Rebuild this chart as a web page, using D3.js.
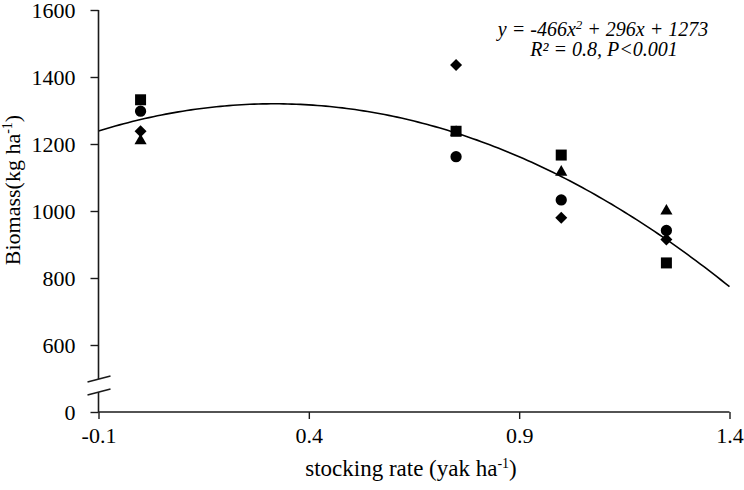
<!DOCTYPE html>
<html>
<head>
<meta charset="utf-8">
<script src="https://cdn.jsdelivr.net/npm/d3@7"></script>
<style>
  html, body { margin: 0; padding: 0; background: #fff; }
  svg { display: block; }
  svg text { font-family: "Times New Roman", "Liberation Serif", Tinos, serif; fill: #000; }
</style>
</head>
<body>
<svg id="chart" width="744" height="490"></svg>
<script>
// ---- data ----
const stockingRates = [0, 0.75, 1.0, 1.25];
const seriesSquare   = [1332, 1238, 1167, 845];
const seriesCircle   = [1298, 1162, 1033, 942];
const seriesDiamond  = [1238, 1436, 980, 915];
const seriesTriangle = [1213, 1238, 1119, 1003];
const xTicks = [-0.1, 0.4, 0.9, 1.4];
const yTicks = [0, 600, 800, 1000, 1200, 1400, 1600];
const fitCoef = [-466, 296, 1273]; // a, b, c of y = a x^2 + b x + c
const equationLine1 = ["y = -466x", "2", " + 296x + 1273"];
const equationLine2 = "R² = 0.8, P<0.001";
const xTitle = ["stocking rate (yak ha", "-1", ")"];
const yTitle = ["Biomass(kg ha", "-1", ")"];

const SERIF = '"Times New Roman", "Liberation Serif", Tinos, serif';

// ---- layout ----
const svg = d3.select("#chart");
const x = d3.scaleLinear().domain([-0.1, 1.4]).range([98.5, 729.5]);
const y = d3.scaleLinear().domain([0, 600, 1600]).range([412, 345, 10]);
const axisColor = "#1a1a1a";

// trend curve
const curveXs = d3.range(0, 151).map(i => -0.1 + i * 0.01);
const fit = v => fitCoef[0] * v * v + fitCoef[1] * v + fitCoef[2];
svg.append("path")
  .datum(curveXs)
  .attr("fill", "none")
  .attr("stroke", "#000")
  .attr("stroke-width", 1.6)
  .attr("d", d3.line().x(d => x(d)).y(d => y(fit(d))));

// axes
const yAxisG = svg.append("g").attr("transform", `translate(${x(-0.1)},0)`)
  .call(d3.axisLeft(y).tickValues(yTicks).tickSize(8).tickPadding(15).tickFormat(d => String(d)));
const xAxisG = svg.append("g").attr("transform", `translate(0,${y(0)})`)
  .call(d3.axisBottom(x).tickValues(xTicks).tickSize(7).tickPadding(8).tickFormat(d => d.toFixed(1)));

[yAxisG, xAxisG].forEach(g => {
  g.attr("font-family", SERIF).attr("font-size", 22);
  g.selectAll(".tick line").attr("stroke", axisColor).attr("stroke-width", 1.4);
  g.selectAll(".tick text").attr("font-family", SERIF).attr("font-size", 22).attr("fill", "#000");
  g.select(".domain").remove();
});
const ax0 = x(-0.1);
const breakTop = 379, breakBottom = 392;
svg.append("line").attr("x1", ax0).attr("x2", ax0).attr("y1", y(1600)).attr("y2", breakTop)
  .attr("stroke", axisColor).attr("stroke-width", 1.6);
svg.append("line").attr("x1", ax0).attr("x2", ax0).attr("y1", breakBottom).attr("y2", y(0))
  .attr("stroke", axisColor).attr("stroke-width", 1.6);
svg.append("line").attr("x1", ax0).attr("x2", x(1.4)).attr("y1", y(0)).attr("y2", y(0))
  .attr("stroke", axisColor).attr("stroke-width", 1.6);
// break marks
[breakTop, breakBottom].forEach(by => {
  svg.append("line").attr("x1", ax0 - 11).attr("y1", by + 3).attr("x2", ax0 + 12).attr("y2", by - 3)
    .attr("stroke", axisColor).attr("stroke-width", 1.6);
});

// markers
const diamondSym = { draw(ctx, size) { const r = Math.sqrt(size / 2); ctx.moveTo(0, -r); ctx.lineTo(r, 0); ctx.lineTo(0, r); ctx.lineTo(-r, 0); ctx.closePath(); } };
const seriesDefs = [
  { vals: seriesTriangle, sym: d3.symbolTriangle, size: 64, dy: 1 },
  { vals: seriesDiamond, sym: diamondSym, size: 72, dy: 0 },
  { vals: seriesSquare, sym: d3.symbolSquare, size: 121, dy: 0 },
  { vals: seriesCircle, sym: d3.symbolCircle, size: 100, dy: 0 }
];
seriesDefs.forEach(s => {
  svg.append("g").selectAll("path")
    .data(s.vals.map((v, i) => [stockingRates[i], v]))
    .join("path")
    .attr("transform", d => `translate(${x(d[0])},${y(d[1]) + s.dy})`)
    .attr("d", d3.symbol().type(s.sym).size(s.size))
    .attr("fill", "#000");
});

// equation
const eq = svg.append("text").attr("x", 603).attr("y", 36).attr("text-anchor", "middle")
  .attr("font-family", SERIF).attr("font-size", 20).attr("font-style", "italic");
eq.append("tspan").text(equationLine1[0]);
eq.append("tspan").attr("dy", -7).attr("font-size", 13).text(equationLine1[1]);
eq.append("tspan").attr("dy", 7).text(equationLine1[2]);
svg.append("text").attr("x", 604).attr("y", 56).attr("text-anchor", "middle")
  .attr("font-family", SERIF).attr("font-size", 20).attr("font-style", "italic").text(equationLine2);

// axis titles
const xt = svg.append("text").attr("x", 411).attr("y", 476).attr("text-anchor", "middle")
  .attr("font-family", SERIF).attr("font-size", 23);
xt.append("tspan").text(xTitle[0]);
xt.append("tspan").attr("dy", -8).attr("font-size", 14).text(xTitle[1]);
xt.append("tspan").attr("dy", 8).text(xTitle[2]);

const yt = svg.append("text").attr("transform", "translate(20,190) rotate(-90)").attr("text-anchor", "middle")
  .attr("font-family", SERIF).attr("font-size", 22);
yt.append("tspan").text(yTitle[0]);
yt.append("tspan").attr("dy", -8).attr("font-size", 14).text(yTitle[1]);
yt.append("tspan").attr("dy", 8).text(yTitle[2]);
</script>
</body>
</html>
